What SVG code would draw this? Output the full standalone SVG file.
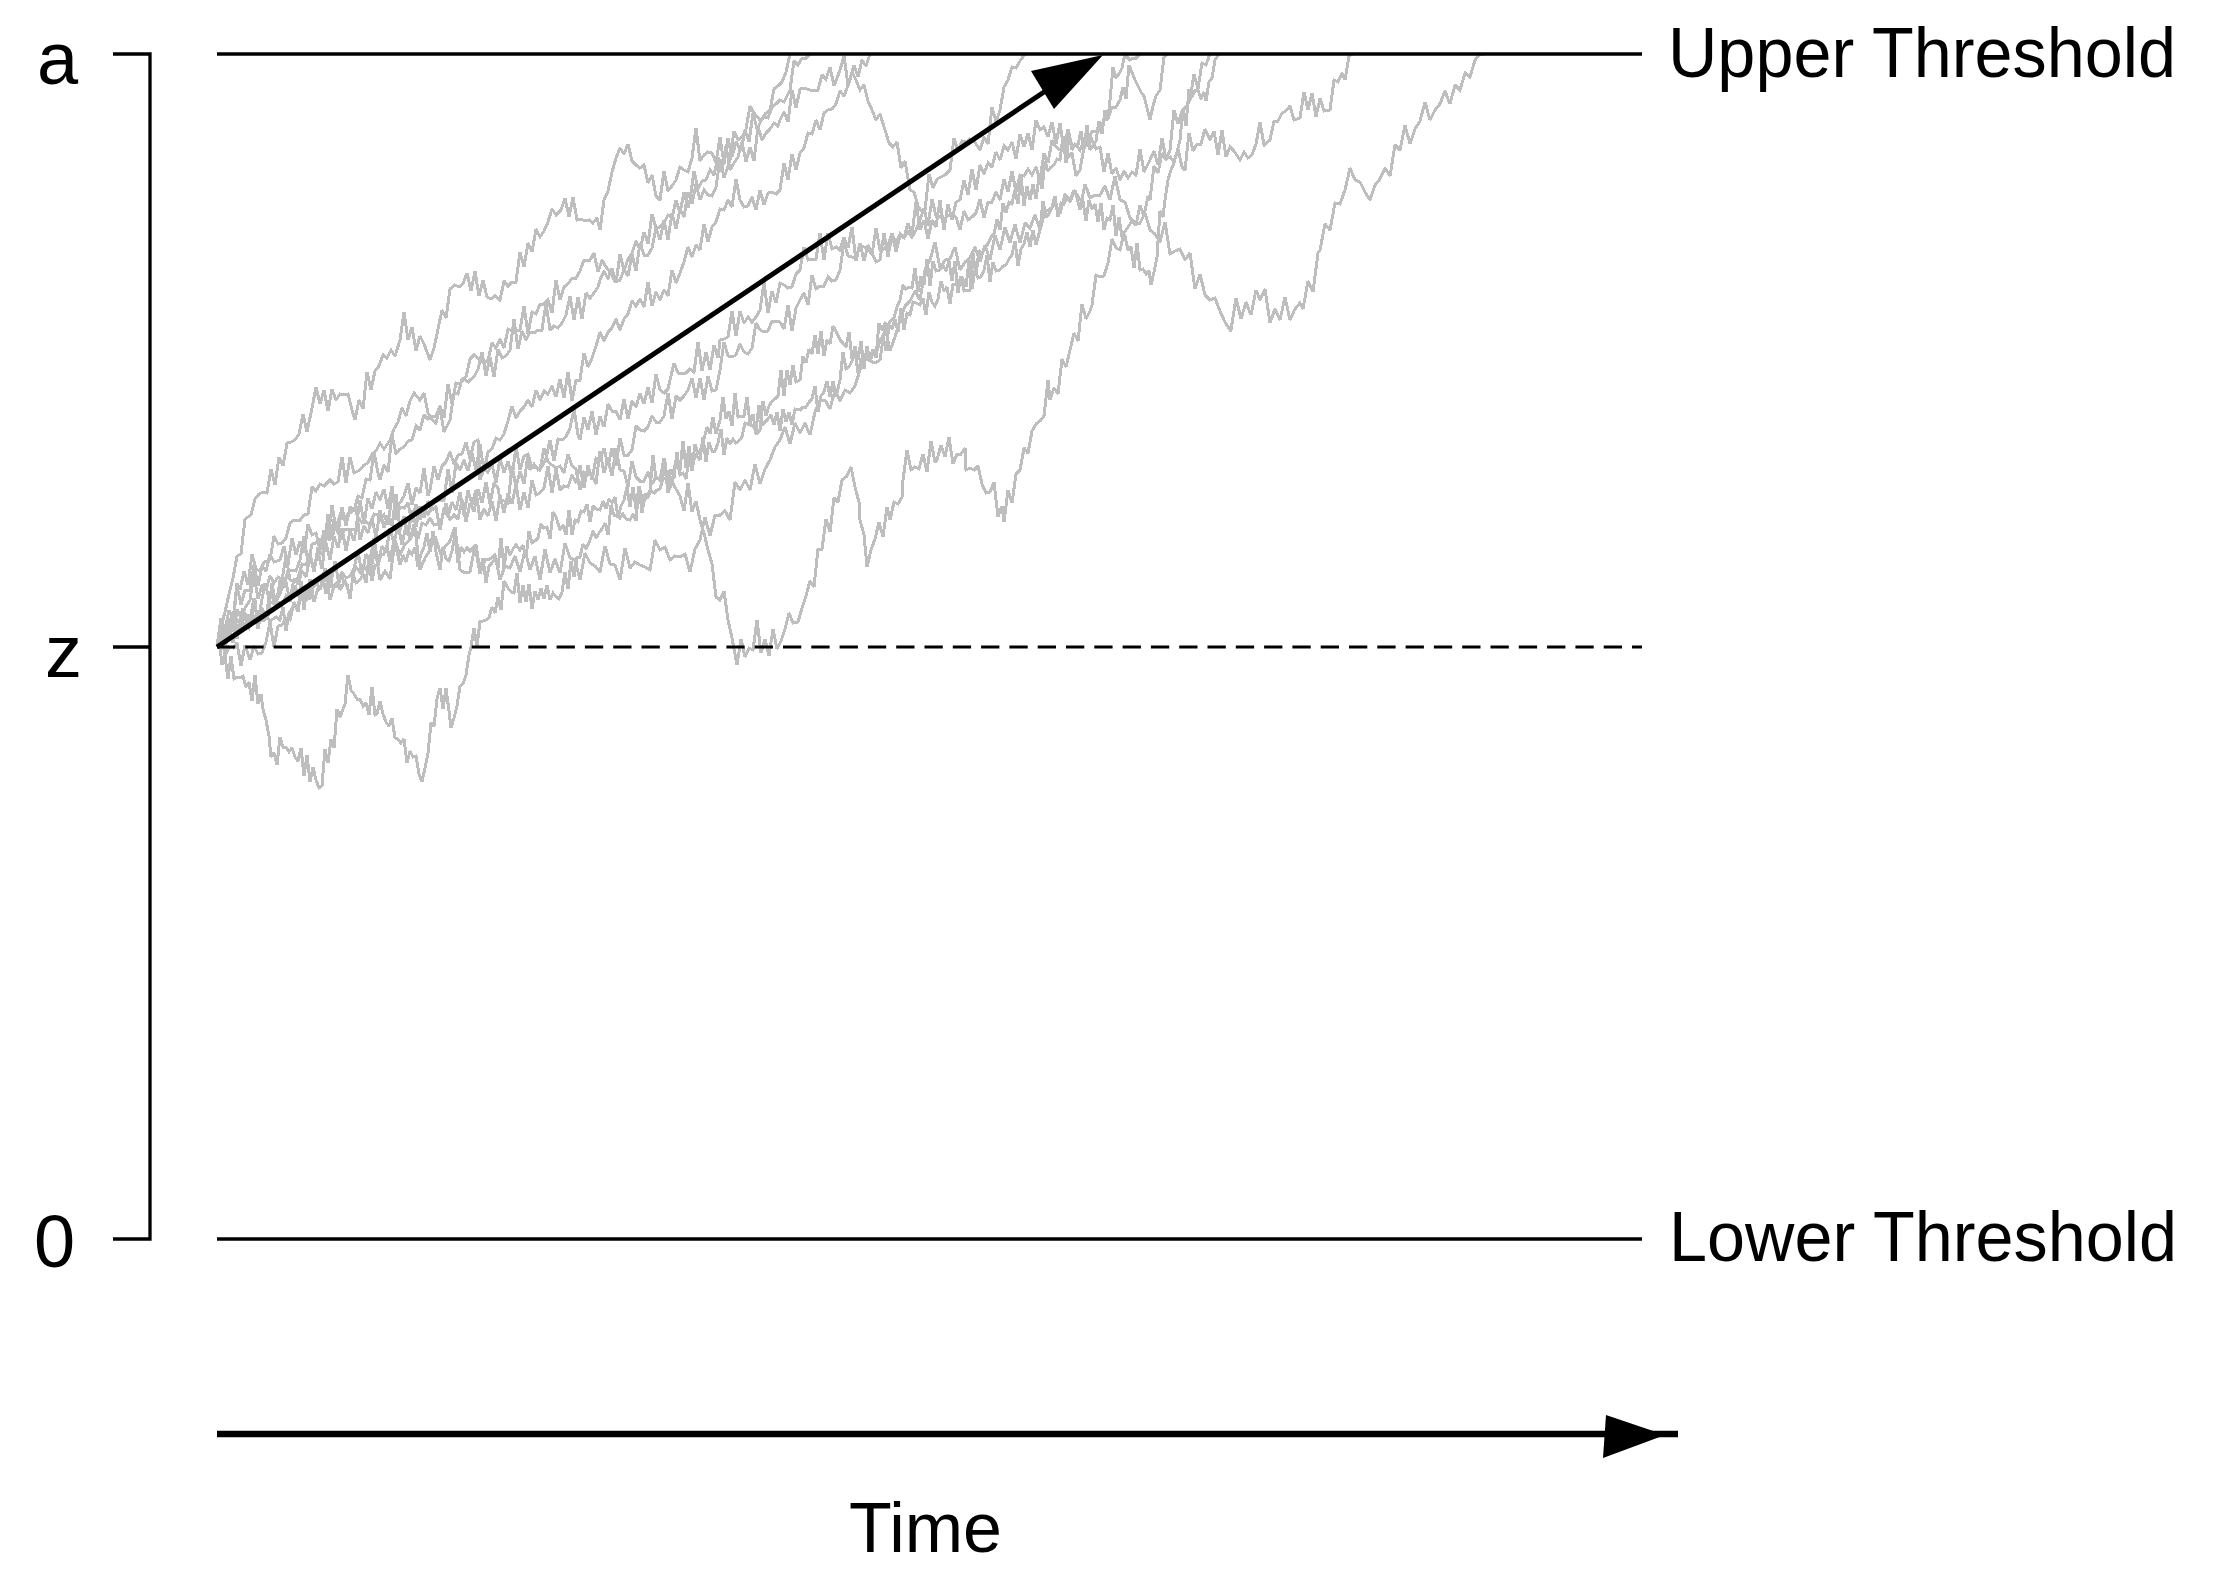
<svg xmlns="http://www.w3.org/2000/svg" width="2222" height="1584" viewBox="0 0 2222 1584">
<style>
.walk{fill:none;stroke:#bebebe;stroke-width:3;stroke-linejoin:miter;stroke-miterlimit:2;stroke-linecap:butt;shape-rendering:crispEdges}
.ln{stroke:#000;stroke-width:3.3;fill:none}
.dash{stroke:#000;stroke-width:3;stroke-dasharray:18.3 10;fill:none}
.lbl{font-family:"Liberation Sans",Arial,sans-serif;font-size:70px;fill:#000}
.ax{font-family:"Liberation Sans",Arial,sans-serif;font-size:74px;fill:#000}
.head{fill:#000;stroke:none}
</style>
<defs>
<clipPath id="below"><rect x="200" y="54" width="1500" height="900"/></clipPath>
</defs>
<rect x="0" y="0" width="2222" height="1584" fill="#fff"/>
<g id="walks" clip-path="url(#below)">
<path class="walk" d="M217,647 l4,-20 4,-15 4,-18 4,-16 4,-22 4,-2 4,-35 L251,515 l4,-16 4,-5 4,-2 4,1 4,-24 4,16 4,-28 4,9 4,-23 4,-1 4,-2 4,-6 4,-20 4,18 L312,408 l4,-21 4,17 4,-14 4,21 4,-22 4,11 4,-6 4,1 4,-1 4,16 L355,420 l4,-20 4,9 4,-37 4,18 4,-19 4,-5 4,-11 4,3 4,-8 4,6 L400,340 l4,-28 4,28 4,-13 4,24 4,-15 4,8 L430,360 l4,-12 4,-19 4,-19 4,8 4,-29 L455,285 l4,2 4,-3 4,-11 4,18 4,-20 4,25 4,-16 4,17 4,2 4,-3 L500,300 l4,-19 4,5 4,-4 4,0 4,-30 4,15 4,-24 4,9 4,-23 4,8 4,-6 4,-9 4,-13 4,6 L561,210 l4,-12 4,19 4,-20 4,23 4,-1 4,2 4,-1 4,3 4,-5 L600,230 l4,-30 4,-9 4,-19 4,-14 4,-10 L624,154 l4,-10 4,17 4,4 4,3 4,-3 4,18 4,-8 4,21 L660,200 l4,-29 4,20 4,-5 4,-6 4,-13 4,3 4,2 4,-14 4,-30 L700,161 l4,-6 4,-3 4,1 4,10 4,-26 4,27 4,-26 4,19 4,-15 L741,151 l4,-21 4,12 4,-29 4,16 4,-8 4,-7 L770,110 l4,-21 4,-3 4,-4 4,-10 L790,54"/>
<path class="walk" d="M217,647 l4,-29 4,12 4,-20 4,10 4,-37 L240,590 l4,-19 4,14 4,-31 4,15 4,2 4,-9 L270,560 l4,-24 4,8 4,-1 4,-5 4,-15 4,-3 L300,520 l4,-5 4,-1 4,-27 4,4 4,-7 4,2 L330,480 l4,4 4,-2 4,-25 4,26 4,-26 4,16 L360,470 l4,-5 4,-2 4,-9 4,-3 4,-8 4,6 L390,440 l4,-11 4,-7 4,-14 4,8 4,-15 4,-8 L420,400 l4,-7 4,20 4,7 4,3 4,-16 4,25 L450,420 l4,-27 4,1 4,-15 4,-2 4,-18 4,-4 L480,360 l4,3 4,-3 4,-17 4,5 4,-9 4,9 4,-19 4,2 4,0 L520,330 l4,-24 4,28 4,-22 4,2 4,-10 4,0 4,-4 4,13 4,-33 L560,300 l4,-13 4,-3 4,-6 4,0 4,-7 4,-11 L590,260 l4,-7 4,19 4,-12 4,7 4,5 4,8 L620,280 l4,-10 4,6 4,-22 4,17 4,-28 4,12 4,0 4,-7 4,-20 L660,240 l4,-20 4,20 4,-27 4,16 4,-20 4,8 4,-25 4,12 4,-20 L700,200 l4,-10 4,5 4,1 4,-9 4,-28 4,19 L730,160 l4,-29 4,9 4,-3 4,-8 4,-23 4,7 L760,120 l4,-3 4,1 4,-11 4,-3 4,-4 4,2 L790,90 l4,-29 4,4 4,-7 4,0 L810,54"/>
<path class="walk" d="M217,647 l4,-2 4,4 4,-19 4,12 4,-17 4,2 4,-3 4,4 4,-11 4,4 L260,620 l4,0 4,-4 4,-33 4,24 4,-27 4,8 4,-18 4,0 4,1 L300,560 l4,-24 4,27 4,-19 4,-1 4,-3 4,9 4,-35 4,26 4,-19 L340,540 l4,-10 4,-1 4,0 4,0 4,-29 4,24 4,-26 4,11 4,-17 L380,500 l4,-11 4,20 4,-23 4,34 4,-13 4,1 4,-5 4,19 4,-18 L420,520 l4,-13 4,8 4,-10 4,-3 4,-2 4,0 4,-31 4,24 4,-30 L460,470 l4,-10 4,11 4,-18 4,17 4,-26 4,27 4,-19 4,-3 4,-11 L500,440 l4,-6 4,-13 4,-15 4,12 4,-7 4,-4 4,-7 4,7 4,-17 L540,400 l4,-9 4,3 4,-8 4,11 4,-18 4,19 4,-26 4,29 4,-21 L580,380 l4,-27 4,14 4,-9 4,-12 4,-14 4,9 4,-9 4,-4 4,-9 L620,330 l4,-11 4,-5 4,-13 4,5 4,-7 4,8 4,-25 4,24 4,-14 L660,300 l4,-10 4,6 4,-26 4,13 4,-10 4,-11 4,-15 4,10 4,-12 L700,250 l4,-26 4,18 4,-15 4,-5 4,-13 4,1 4,-10 4,7 4,-28 L740,200 l4,7 4,-1 4,-9 4,13 4,-20 4,15 4,-12 4,-1 4,2 L780,190 l4,-27 4,17 4,-26 4,16 4,-17 4,-5 4,-15 4,1 4,-14 L820,130 l4,-17 4,-3 4,-1 4,-5 4,-13 4,5 L850,80 l4,-15 4,12 4,-17 4,6 L870,54"/>
<path class="walk" d="M217,647 l4,-14 4,15 4,-19 4,14 4,-34 4,9 4,-10 L250,600 l4,-26 4,25 4,-14 4,5 4,-14 4,7 4,-6 4,3 4,-24 L290,580 l4,1 4,-3 4,-14 4,1 4,-11 4,16 4,-18 4,17 4,-33 L330,540 l4,-21 4,14 4,-26 4,19 4,-19 4,4 4,-15 4,2 4,-19 4,1 4,-28 4,21 L380,480 l4,-15 4,7 4,-37 4,19 4,-5 4,-2 4,-6 4,-1 4,-14 L420,430 l4,-15 4,4 4,-3 4,0 4,-10 4,12 4,-34 4,20 4,-21 4,1 4,-5 4,3 L470,380 l4,-3 4,-8 4,-17 4,24 4,-19 4,20 4,-28 4,9 4,-2 L510,350 l4,-31 4,30 4,-18 4,9 4,-8 4,1 4,-3 4,0 4,-27 L550,330 l4,-4 4,2 4,-5 4,-8 4,-19 4,24 4,-23 4,22 4,-26 4,5 4,-5 4,-6 L600,280 l4,-9 4,8 4,-11 4,15 4,-29 4,17 4,-12 4,-6 4,-12 L640,250 l4,-18 4,12 4,-30 4,14 4,-1 4,-4 4,-8 4,3 4,-18 4,13 4,-21 4,16 L690,200 l4,-29 4,18 4,-8 4,-1 4,-10 4,5 4,-18 4,15 4,-26 L730,170 l4,-7 4,-6 4,-15 4,20 4,-15 4,14 4,-34 4,13 4,-7 4,-4 4,-6 4,3 L780,120 l4,-8 4,10 4,-32 4,18 4,-19 4,-1 L810,90 l4,0 4,0 4,-15 4,4 4,-12 4,19 L840,70 l4,-14 4,29 4,-13 4,8 L860,90 l4,-5 4,16 4,9 4,10 4,-6 L885,130 l4,13 4,4 4,-5 4,26 4,-7 L910,190 l4,2 4,14 4,6 L925,210 l4,-36 4,14 4,-9 4,-2 4,-2 L950,170 l4,-32 4,13 4,-10 4,1 4,-3 4,2 L980,150 l4,-13 4,7 4,-37 4,15 L1000,110 l4,-23 4,-7 4,-13 4,1 4,-7 L1025,54"/>
<path class="walk" d="M217,647 l3,0 L222,665 l3,-9 3,23 3,-23 3,23 3,-2 3,1 3,-2 3,11 3,-5 3,19 3,-26 3,29 3,-10 L263,709 l3,11 3,16 L271,757 l3,-4 3,12 3,-28 3,10 3,0 3,5 L292,748 l3,9 3,4 3,-13 3,28 3,-21 3,27 3,-15 3,13 3,8 L322,786 l3,-37 3,14 3,-24 3,9 3,-39 3,8 3,-8 L345,704 l3,-29 3,15 3,4 3,5 3,0 3,7 3,-3 3,12 3,-28 3,28 L377,714 l3,-13 3,13 3,8 3,4 3,-8 3,20 3,1 3,4 3,-4 3,24 3,-12 3,6 3,-1 3,18 L422,782 l3,-14 3,-15 3,-30 3,3 L437,699 l3,-11 3,21 3,-21 3,23 L451,728 l3,-10 3,-12 3,-20 3,-2 3,-9 3,-20 L471,647 l3,-19 3,19 3,-26 3,0 3,-1 3,-2 3,-11 3,6 3,-16 3,13 3,-29 L508,588 l3,4 3,1 3,-20 3,30 3,-18 3,17 3,-18 3,25 3,-18 3,9 3,-12 3,11 3,-14 L550,600 l3,-7 3,4 3,2 3,-7 3,-20 3,17 3,-28 3,16 3,-20 3,0 3,-13 3,5 L590,540 l3,-9 3,7 3,-5 3,-4 3,-6 3,12 3,-30 3,10 3,0 3,3 3,-4 3,5 L630,520 l3,-6 3,7 3,-35 3,27 3,-19 3,3 3,-6 3,2 3,-3 3,-1 3,-11 3,0 3,-7 3,15 3,-21 L680,470 l3,-29 3,27 3,-22 3,22 3,-24 3,10 3,-6 3,-9 3,-12 3,7 3,-17 3,17 L720,420 l3,-23 3,22 3,-8 3,15 3,-33 3,24 3,-1 3,0 3,-19 3,27 3,-10 3,20 L760,430 l3,-29 3,15 3,-10 3,-5 3,-2 3,-3 3,-26 3,26 3,-26 3,15 3,-20 3,17 L800,380 l3,-24 3,7 3,-14 3,5 3,-19 3,19 3,-23 3,25 3,-16 3,4 3,-18 3,5 L840,340 l3,3 3,4 3,-15 3,27 3,-13 3,14 3,-19 3,28 3,-23 L870,360 l3,-11 3,9 3,-35 3,7 3,-7 3,2 3,-5 3,-2 3,-11 L900,300 l3,-15 3,4 3,-2 3,1 3,-20 3,24 3,-16 3,9 3,-26 3,27 3,-25 3,10 L940,270 l3,-5 3,6 3,-10 3,20 3,-20 3,32 3,-17 3,15 3,-1 L970,290 l3,-37 3,23 3,-26 3,4 3,-7 3,-3 3,-7 3,-3 3,-15 L1000,230 l3,-27 3,10 3,-11 3,2 3,-14 3,14 3,-28 3,30 3,-20 L1030,200 l3,-16 3,15 3,-22 3,12 3,-28 3,10 3,-4 3,-2 3,-6 L1060,160 l3,-24 3,27 3,-28 3,15 3,-6 3,1 3,-14 3,18 3,-24 L1090,150 l3,-4 3,-5 3,-20 3,13 3,-24 3,8 L1110,100 l3,-33 3,11 3,-4 3,-6 3,-14 3,4 L1130,60 l3,-2 3,0 L1140,54"/>
<path class="walk" d="M217,647 l4,-19 4,28 4,-9 4,1 4,-5 4,23 4,-21 L250,660 l4,-14 4,8 4,-1 4,-11 4,-20 4,25 4,-21 4,-1 4,-7 L290,620 l4,-18 4,8 4,-22 4,13 4,-22 4,23 4,-14 4,-2 4,-10 L330,600 l4,-14 4,-4 4,-10 4,6 4,-2 4,-8 4,-17 4,24 4,-21 L370,560 l4,-22 4,25 4,-17 4,7 4,-25 4,16 4,-20 4,21 4,-20 L410,540 l4,-16 4,15 4,-16 4,2 4,-7 4,7 4,-1 4,-5 4,-16 L450,520 l4,-5 4,4 4,-19 4,22 4,-19 4,9 4,-23 4,14 4,-21 4,22 4,-21 4,5 L500,500 l4,1 4,3 4,-38 4,21 4,-16 4,13 4,-30 4,14 4,-1 L540,470 l4,-22 4,14 4,3 4,3 4,-2 4,7 4,-19 4,12 4,3 L580,490 l4,-18 4,2 4,2 4,8 4,-33 4,22 4,-14 4,17 4,-28 L620,470 l4,1 4,16 4,-26 4,16 4,4 4,0 4,-9 4,12 4,-7 L660,480 l4,-22 4,35 4,-11 4,7 4,7 4,15 4,-28 4,29 4,-11 L700,520 l4,13 4,17 4,14 4,33 L720,600 l4,-9 4,29 4,18 L737,665 l4,-26 4,18 4,-9 4,2 4,-30 4,33 4,-14 L769,656 l4,-27 4,20 4,-8 4,-12 4,-16 4,10 L798,622 l4,-14 4,-12 4,-15 4,6 4,-38 L822,549 l4,-30 4,13 4,-34 4,4 4,-22 L847,476 l4,-9 4,20 4,15 L860,520 l4,15 L867,567 l4,-17 4,-11 4,-17 4,15 4,-30 L890,520 l4,-18 4,2 4,-7 L903,480 l4,-30 4,20 4,-3 4,2 4,-15 4,18 4,-31 4,21 L937,460 l4,-15 4,12 4,-20 4,27 4,-10 4,0 4,-6 L966,470 l4,-2 4,2 4,-4 4,18 4,9 4,-1 4,-10 4,35 4,-11 L1004,522 l4,-32 4,13 4,-29 L1020,470 l4,-22 4,5 4,-22 4,-7 4,-3 4,-5 4,-36 L1050,400 l4,-12 4,6 4,-35 4,8 L1070,350 l4,-17 4,8 4,-37 4,15 4,-8 L1092,305 l4,-30 4,2 4,-1 4,-13 4,-24 4,9 L1120,250 l4,-17 4,-6 4,-6 4,4 4,-20 4,11 4,-20 L1150,200 l4,-34 4,7 4,-20 4,7 L1170,150 l4,-40 4,14 4,-13 4,-4 L1190,100 l4,-26 4,15 4,-26 4,2 L1210,54"/>
<path class="walk" d="M217,647 l5,-9 5,-4 5,-8 5,13 5,-28 5,5 5,-1 5,4 L260,610 l5,-27 5,19 5,2 5,-10 5,-17 5,25 5,-17 L300,600 l5,-7 5,6 5,-20 5,11 5,-22 5,20 5,-27 L340,590 l5,-9 5,14 5,-29 5,6 5,-4 5,7 5,-27 L380,580 l5,-9 5,8 5,-39 5,15 5,-11 5,-4 5,-11 L420,570 l5,-12 5,-8 5,-14 5,16 5,-5 5,-6 5,-14 L460,570 l5,3 5,-1 5,-27 5,29 5,-14 5,-1 5,-4 L500,580 l5,-14 5,2 5,-12 5,16 5,-22 5,20 5,-14 L540,580 l5,-31 5,24 5,-14 5,14 5,-30 5,15 5,2 L580,580 l5,-27 5,10 5,3 5,6 5,-26 5,18 5,1 L620,580 l5,-32 5,20 5,-6 5,3 5,2 5,3 5,-30 L660,550 l5,-3 5,13 5,-4 5,1 5,-3 5,18 5,-23 L700,540 l5,-23 5,19 5,-21 5,0 5,-4 5,9 5,-38 L740,490 l5,-10 5,10 5,-26 5,20 5,-15 5,-9 5,-13 L780,440 l5,-13 5,17 5,-21 5,10 5,-10 5,12 5,-23 L820,400 l5,0 5,9 5,-19 5,11 5,-11 5,3 5,-7 L860,370 l5,-13 5,4 5,2 5,-3 5,-34 5,25 5,-14 L900,320 l5,-14 5,-5 5,-10 5,9 5,-30 L930,260 l5,-18 5,26 5,-8 5,-1 5,-12 L960,270 l5,-8 5,-4 5,-11 5,15 5,-17 5,15 5,-25 L1000,250 l5,-23 5,16 5,-19 5,19 5,-20 5,5 5,-13 L1040,230 l5,-18 5,-3 5,-4 5,9 5,-20 5,8 5,-12 L1080,210 l5,-26 5,14 5,-3 5,0 5,-9 5,14 5,-24 L1120,200 l5,2 5,16 5,5 5,0 5,-10 L1150,230 l5,4 5,8 5,-20 5,32 5,-3 5,-2 L1185,260 l5,-7 5,36 5,-15 5,21 L1210,300 l5,-2 5,13 5,11 5,8 L1231,330 l5,-32 5,21 5,-17 5,13 5,-25 L1260,300 l5,-11 5,34 5,-14 L1280,320 l5,-23 5,23 5,-11 5,-6 L1303,309 l5,-28 5,11 5,-39 L1320,250 l5,-26 5,6 5,-27 5,1 L1345,190 l5,-22 5,12 5,2 5,10 L1370,200 l5,-15 5,-6 5,-11 5,8 5,-31 L1400,150 l5,-25 5,19 5,-15 5,-8 5,-19 L1430,120 l5,-10 5,-6 5,-13 5,13 5,-19 L1460,90 l5,-17 5,4 L1475,60 l5,-6 L1484,54"/>
<path class="walk" d="M217,647 l4,-21 4,18 4,-23 4,8 4,-10 4,7 4,-11 L250,620 l4,-22 4,27 4,-17 4,9 4,-25 4,9 4,1 4,3 4,-9 L290,600 l4,-21 4,5 4,-13 4,6 4,-21 4,16 4,-25 4,8 4,-12 L330,560 l4,-24 4,12 4,-20 4,23 4,-20 4,10 4,-24 4,6 4,-1 4,3 4,-11 4,1 L380,520 l4,-5 4,10 4,-30 4,11 4,-3 4,-7 4,-13 4,22 4,-17 4,5 4,-25 4,28 L430,490 l4,-24 4,14 4,-14 4,-4 4,-10 4,12 4,-9 4,-1 4,-12 4,17 4,-17 4,-2 L480,480 l4,-11 4,3 4,-8 4,19 4,-25 4,15 4,-12 4,17 4,-32 4,24 4,-14 4,-2 L530,470 l4,-6 4,6 4,-3 4,-9 4,-18 4,21 4,-22 4,1 4,-3 4,-9 4,-19 4,26 L580,440 l4,-23 4,13 4,-19 4,24 4,-19 4,11 4,-23 4,7 4,0 L620,420 l4,-21 4,20 4,-18 4,6 4,-14 4,11 4,-17 4,16 4,-29 4,16 4,3 4,-4 L670,380 l4,-17 4,10 4,1 4,-1 4,-4 4,3 4,-30 4,29 4,-19 4,18 4,-25 4,13 L720,340 l4,-1 4,-2 4,-26 4,25 4,-25 4,12 4,-6 4,5 4,-5 L760,310 l4,-28 4,31 4,-22 4,12 4,-20 4,2 4,3 4,-1 4,-13 L800,270 l4,-23 4,13 4,-1 4,0 4,-26 4,27 4,-27 4,16 4,-2 L840,250 l4,-13 4,11 4,-21 4,34 4,-18 4,18 4,-16 4,8 4,9 L880,260 l4,-27 4,24 4,-23 4,9 4,-9 4,4 4,-15 4,12 4,-33 L920,230 l4,-10 4,19 4,-19 4,7 4,-27 4,30 4,-26 4,16 4,-18 L960,200 l4,-20 4,15 4,-26 4,21 4,-25 4,9 4,-11 4,4 4,-15 L1000,160 l4,-14 4,4 4,-8 4,17 4,-25 4,13 4,-14 4,17 4,-30 L1040,130 l4,-3 4,10 4,-15 4,22 4,-21 4,28 4,-22 4,18 4,-2 L1080,150 l4,-10 4,5 4,-5 4,9 4,-2 4,25 4,-19 4,21 4,-6 L1120,180 l4,-9 4,7 4,-6 4,3 4,-26 4,23 L1150,160 l4,-9 4,14 4,-27 4,21 4,-2 4,5 4,-13 4,18 L1185,170 l4,-37 4,18 4,-7 4,0 4,-15 L1210,140 l4,-9 4,24 4,-25 4,27 4,-10 4,4 L1240,160 l4,-8 4,6 4,-3 4,-11 4,-22 4,23 L1270,140 l4,-19 4,0 4,-8 4,-2 4,-5 4,14 L1300,118 l4,-26 4,18 4,-17 4,24 4,-19 4,13 L1330,110 l4,-30 4,2 4,-9 L1345,80 l4,-24 L1353,54"/>
<path class="walk" d="M217,647 l3,-4 3,6 3,-21 3,11 3,-17 3,7 3,1 L240,630 l3,-22 3,13 3,3 3,-9 3,-15 3,29 3,-15 3,6 3,-3 3,4 3,-2 3,-2 L280,620 l3,-13 3,24 3,-18 3,-4 3,-5 3,8 3,-31 3,29 3,-23 3,8 3,-7 3,-5 L320,580 l3,-2 3,16 3,-24 3,15 3,1 3,0 3,-11 3,7 3,2 3,15 3,-24 3,8 L360,580 l3,-6 3,9 3,-26 3,24 3,-16 3,1 3,-12 3,0 3,-9 3,17 3,-17 3,2 L400,565 l3,-10 3,7 3,-11 3,3 3,-7 3,20 3,-13 3,-7 3,-14 3,19 3,-21 3,21 L440,570 l3,-23 3,12 3,2 3,-10 3,-16 3,28 3,-16 3,5 3,-4 3,3 3,-3 3,-3 L480,570 l3,-12 3,25 3,-17 3,-3 3,-4 3,9 3,-30 3,30 3,-22 3,9 3,-6 3,-4 L520,550 l3,-5 3,13 3,-27 3,12 3,-2 3,-3 3,-14 3,4 3,-1 3,12 3,-27 3,5 L560,530 l3,-5 3,10 3,-25 3,25 3,-15 3,2 3,-11 3,1 3,-8 3,18 3,-16 3,3 L600,510 l3,-9 3,8 3,-10 3,4 3,-6 3,21 3,-12 3,-6 3,-13 3,20 3,-20 3,22 3,-23 3,12 3,2 L650,490 l3,-35 3,24 3,-1 3,2 3,-18 3,24 3,-17 3,9 3,-26 3,23 3,-2 3,6 3,-21 3,13 3,-17 L700,460 l3,-23 3,25 3,-20 3,9 3,0 3,-8 3,-14 3,26 3,-17 3,6 3,-5 3,4 3,-2 3,-4 3,-14 L750,425 l3,1 3,5 3,-26 3,20 3,-3 3,-3 3,-4 3,10 3,-13 3,19 3,-22 3,13 3,-10 3,13 3,-16 L800,410 l3,-3 3,0 3,-5 3,-3 3,-13 3,26 3,-16 3,-4 3,-11 3,16 3,-16 3,16 L840,380 l3,-28 3,17 3,-2 3,-6 3,-10 3,22 3,-13 3,2 3,-7 3,6 3,-8 3,2 L880,340 l3,-4 3,15 3,-26 3,4 3,-10 3,13 3,-24 3,22 3,-17 3,2 3,-13 3,1 L920,305 l3,-7 3,17 3,-23 3,10 3,4 3,-7 3,-18 3,10 3,-4 3,17 3,-20 3,0 L960,280 l3,-1 3,8 3,-27 3,29 3,-19 3,8 3,-1 3,-7 3,-15 3,27 3,-20 3,9 L1000,270 l3,-4 3,-1 3,-6 3,-4 3,-14 3,25 3,-17 3,-5 3,-12 3,15 3,-17 3,15 L1040,230 l3,-29 3,16 3,-3 3,-7 3,-11 3,21 3,-14 3,1 3,-8 3,5 3,-9 3,1 L1080,200 l3,1 3,20 3,-21 3,9 3,-5 3,18 3,-19 3,27 3,-12 L1110,220 l3,-15 3,31 3,-19 3,20 3,-1 3,14 3,-3 3,21 3,-25 L1140,270 l3,-1 3,5 3,-3 L1151,285 l3,-13 3,-15 3,-46 3,6 L1165,200 l3,-20 3,-10 3,-7 3,-11 L1180,140 l3,-31 3,17 3,-37 3,8 L1195,90 l3,0 3,9 3,-7 L1206,101 l3,-19 3,-4 3,-18 L1219,54"/>
<path class="walk" d="M217,647 l4,-22 4,17 4,-23 4,5 4,-38 4,19 4,-15 L250,590 l4,-25 4,21 4,-20 4,5 4,-17 4,8 L280,560 l4,-14 4,19 4,-27 4,17 4,-14 4,12 4,-29 4,11 4,-2 L320,550 l4,-20 4,10 4,-35 4,24 4,-14 4,4 4,-5 4,-2 4,-6 L360,540 l4,-14 4,7 4,-15 4,20 4,-28 4,18 4,-13 4,11 4,-32 L400,530 l4,-14 4,19 4,-25 4,17 4,-21 4,12 4,-17 4,9 4,-3 L440,530 l4,-22 4,9 4,-15 4,8 4,-18 4,23 4,-25 4,15 4,-15 L480,520 l4,-11 4,7 4,-15 4,20 4,-26 4,18 4,-20 4,11 4,-20 L520,510 l4,-18 4,16 4,-28 4,15 4,-2 4,-5 4,-22 4,27 4,-24 L560,490 l4,-4 4,1 4,-12 4,8 4,-18 4,23 4,-23 4,15 4,-22 L600,460 l4,-12 4,18 4,-18 4,18 4,-28 4,17 4,0 4,-5 4,-24 L640,430 l4,1 4,-4 4,-11 4,6 4,0 4,-6 4,-23 4,26 4,-23 L680,400 l4,-4 4,-6 4,-12 4,20 4,-20 4,22 4,-24 4,15 4,-1 L720,370 l4,-28 4,14 4,1 4,-2 4,-11 4,8 4,2 4,-6 4,-25 L760,330 l4,2 4,-1 4,-10 4,0 4,1 4,7 4,-24 4,26 4,-23 L800,300 l4,-7 4,12 4,-30 4,14 4,-3 4,0 4,-9 4,4 4,-1 L840,270 l4,-28 4,14 4,1 4,0 4,-11 4,1 4,2 4,6 4,-27 L880,250 l4,-1 4,-4 4,-12 4,19 4,-16 4,2 4,-6 4,5 4,-7 L920,220 l4,-12 4,18 4,-27 4,17 4,0 4,5 4,-6 4,0 4,2 L960,230 l4,-19 4,9 4,-3 4,-4 4,-14 4,19 4,-16 4,0 4,-10 L1000,200 l4,-21 4,13 4,-21 4,21 4,-17 4,1 4,-7 4,6 4,-8 L1040,180 l4,-27 4,10 4,-23 4,7 L1060,150 l4,1 4,6 4,-4 4,23 L1080,170 l4,-23 4,-3 4,-13 4,0 L1100,130 l4,-10 4,-1 4,-12 4,0 L1120,100 l3,-13 3,12 3,-34 L1135,80 l3,6 3,6 3,4 L1150,120 l3,-14 3,-10 L1160,90 l4,-33 L1168,54"/>
</g>
<g id="axis">
<path class="ln" d="M113,54 H150 V1239 H113"/>
<line class="ln" x1="113" y1="647" x2="150" y2="647"/>
</g>
<g id="thresholds">
<line id="upper" class="ln" x1="217" y1="54" x2="1642" y2="54"/>
<line id="lower" class="ln" x1="217" y1="1239" x2="1642" y2="1239"/>
<line id="start" class="dash" x1="217" y1="647" x2="1642" y2="647"/>
</g>
<g id="connectors">
<g id="drift-arrow">
<line x1="217" y1="647" x2="1050" y2="88" stroke="#000" stroke-width="5"/>
<polygon class="head" points="1103,55 1031,71 1054,109"/>
</g>
<g id="time-arrow">
<line x1="217" y1="1434" x2="1678" y2="1434" stroke="#000" stroke-width="6.5"/>
<polygon class="head" points="1606,1415 1665,1435 1603,1458"/>
</g>
</g>
<g id="labels">
<text class="ax" x="37" y="84">a</text>
<text class="ax" x="45" y="677">z</text>
<text class="ax" x="34" y="1267">0</text>
<text class="lbl" x="1668" y="77" textLength="508" lengthAdjust="spacingAndGlyphs">Upper Threshold</text>
<text class="lbl" x="1669" y="1261" textLength="508" lengthAdjust="spacingAndGlyphs">Lower Threshold</text>
<text class="lbl" x="849" y="1552">Time</text>
</g>
</svg>
